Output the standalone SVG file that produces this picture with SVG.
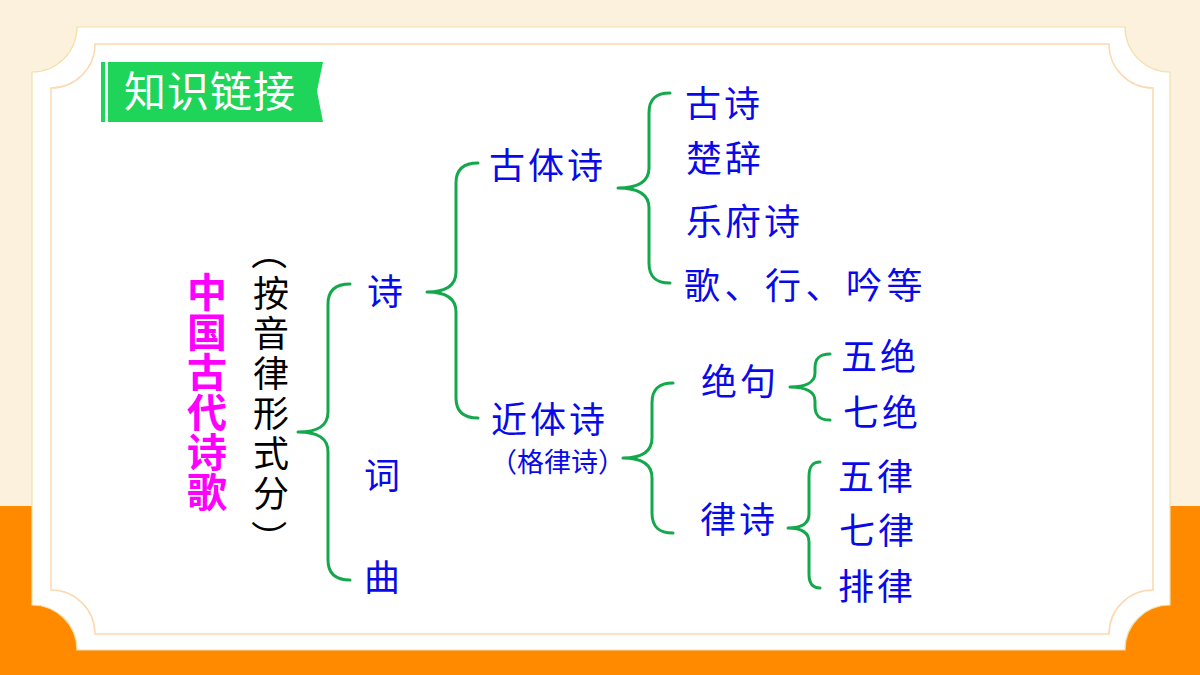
<svg xmlns="http://www.w3.org/2000/svg" width="1200" height="675" viewBox="0 0 1200 675">
<style>
.b{font-family:"Noto Sans CJK SC","Noto Sans CJK JP",sans-serif;fill:#0A0AE8;font-size:36px;letter-spacing:3px}
.s{font-size:27px;letter-spacing:0px}
.k{font-family:"Noto Sans CJK SC","Noto Sans CJK JP",sans-serif;font-size:36px;fill:#000000}
.p{text-anchor:middle;dominant-baseline:central}
.br{fill:none;stroke:#14A84C;stroke-width:3;stroke-linecap:round;stroke-linejoin:round}
</style>
<rect x="0" y="0" width="1200" height="675" fill="#FBF1DC"/>
<rect x="0" y="506" width="1200" height="169" fill="#FF8A00"/>
<path d="M77,27 H1125 A45,45 0 0 0 1170,72 V605 A45,45 0 0 0 1125,650 H77 A45,45 0 0 0 32,605 V72 A45,45 0 0 0 77,27 Z" fill="#FFFFFF" stroke="#F3DFA8" stroke-width="1.2"/>
<path d="M95,44 H1109 A44,44 0 0 0 1153,88 V590 A44,44 0 0 0 1109,634 H95 A44,44 0 0 0 51,590 V88 A44,44 0 0 0 95,44 Z" fill="none" stroke="#FCD9B0" stroke-width="1.5"/>

<g id="title">
<rect x="101" y="62" width="4" height="60" fill="#1ED55A"/>
<polygon points="108,62 323,62 317,91 323,122 108,122" fill="#1ED55A"/>
<text x="124" y="107" font-family="Noto Sans CJK SC,sans-serif" font-size="42" letter-spacing="1" fill="#FFFFFF">知识链接</text>
</g>

<g id="root">
<text x="207" y="272" font-family="Noto Sans CJK SC,sans-serif" font-size="40" font-weight="bold" fill="#FF00FF" writing-mode="vertical-rl">中国古代诗歌</text>
</g>
<g id="criterion">
<text class="k p" transform="translate(271,252) rotate(90)">（</text>
<text class="k" x="271" y="275" letter-spacing="4" writing-mode="vertical-rl">按音律形式分</text>
<text class="k p" transform="translate(271,538) rotate(90)">）</text>
</g>

<g id="connectors">
<path class="br" d="M350,284 C336,284 328,290 328,304 V412 C328,426 318,432 298,432 C318,432 328,438 328,452 V560 C328,574 336,580 350,580"/>
<path class="br" d="M478,163 C464,163 456,169 456,183 V272 C456,286 446,292 427,292 C446,292 456,298 456,312 V398 C456,412 464,418 478,418"/>
<path class="br" d="M670,93 C656,93 649,99 649,113 V168 C649,182 638,188 618,188 C638,188 649,194 649,208 V263 C649,277 656,283 670,283"/>
<path class="br" d="M673,383 C659,383 652,389 652,403 V438 C652,452 642,458 623,458 C642,458 652,464 652,478 V513 C652,527 659,533 673,533"/>
<path class="br" d="M830,354 C820,354 815,358 815,368 V373 C815,382 806,387 790,387 C806,387 815,392 815,401 V406 C815,416 820,420 830,420"/>
<path class="br" d="M820,462 C812,462 809,467 809,477 V514 C809,523 802,528 788,528 C802,528 809,533 809,542 V574 C809,583 812,588 820,588"/>
</g>

<g id="shi"><text class="b" x="367" y="305">诗</text></g>
<g id="ci"><text class="b" x="364" y="489">词</text></g>
<g id="qu"><text class="b" x="364" y="591">曲</text></g>
<g id="gutishi"><text class="b" x="489" y="179">古体诗</text></g>
<g id="jintishi"><text class="b" x="491" y="433">近体诗</text><text class="b s" x="490" y="472">（格律诗）</text></g>
<g id="gushi"><text class="b" x="685" y="117">古诗</text></g>
<g id="chuci"><text class="b" x="686" y="172">楚辞</text></g>
<g id="yuefu"><text class="b" x="686" y="235">乐府诗</text></g>
<g id="gexingyin"><text class="b" x="684" y="299" style="letter-spacing:4.5px">歌、行、吟等</text></g>
<g id="jueju"><text class="b" x="701" y="395">绝句</text></g>
<g id="lvshi"><text class="b" x="700" y="533">律诗</text></g>
<g id="wujue"><text class="b" x="841" y="370">五绝</text></g>
<g id="qijue"><text class="b" x="843" y="426">七绝</text></g>
<g id="wulv"><text class="b" x="838" y="490">五律</text></g>
<g id="qilv"><text class="b" x="839" y="544">七律</text></g>
<g id="pailv"><text class="b" x="838" y="600">排律</text></g>
</svg>
